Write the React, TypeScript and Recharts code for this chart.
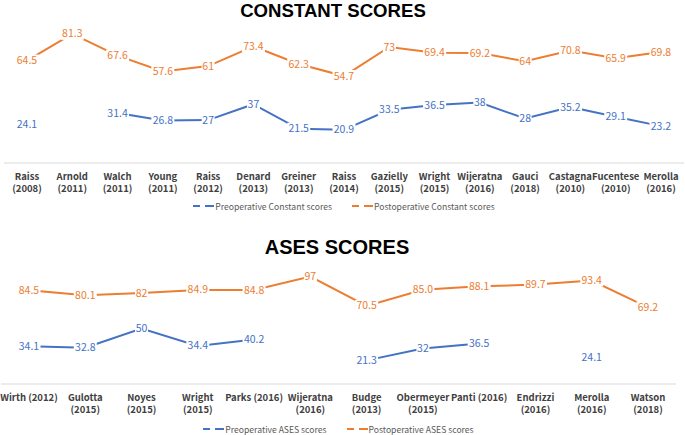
import { LineChart, Line, XAxis, YAxis, Legend, LabelList } from 'recharts'

const BLUE = '#4472C4'
const ORANGE = '#ED7D31'
const FONT = "'Noto Sans CJK KR', 'Noto Sans', sans-serif"
const TITLE_FONT = "'Liberation Sans', Arial, sans-serif"

// Constant scores
const constantStudies = [
  'Raiss\n(2008)', 'Arnold\n(2011)', 'Walch\n(2011)', 'Young\n(2011)', 'Raiss\n(2012)',
  'Denard\n(2013)', 'Greiner\n(2013)', 'Raiss\n(2014)', 'Gazielly\n(2015)', 'Wright\n(2015)',
  'Wijeratna\n(2016)', 'Gauci\n(2018)', 'Castagna\n(2010)', 'Fucentese\n(2010)', 'Merolla\n(2016)',
]
const constantPre = [24.1, null, 31.4, 26.8, 27, 37, 21.5, 20.9, 33.5, 36.5, 38, 28, 35.2, 29.1, 23.2]
const constantPost = [64.5, 81.3, 67.6, 57.6, 61, 73.4, 62.3, 54.7, 73, 69.4, 69.2, 64, 70.8, 65.9, 69.8]

// ASES scores
const asesStudies = [
  'Wirth (2012)', 'Gulotta\n(2015)', 'Noyes\n(2015)', 'Wright\n(2015)', 'Parks (2016)',
  'Wijeratna\n(2016)', 'Budge\n(2013)', 'Obermeyer\n(2015)', 'Panti (2016)', 'Endrizzi\n(2016)',
  'Merolla\n(2016)', 'Watson\n(2018)',
]
const asesPre = [34.1, 32.8, 50, 34.4, 40.2, null, 21.3, 32, 36.5, null, 24.1, null]
const asesPost = [84.5, 80.1, 82, 84.9, 84.8, 97, 70.5, 85.0, 88.1, 89.7, 93.4, 69.2]
const asesPostText = ['84.5', '80.1', '82', '84.9', '84.8', '97', '70.5', '85.0', '88.1', '89.7', '93.4', '69.2']

const constantData = constantStudies.map((study, i) => ({ study, pre: constantPre[i], post: constantPost[i] }))
const asesData = asesStudies.map((study, i) => ({ study, pre: asesPre[i], post: asesPost[i] }))

function StudyTick({ x, y, payload }: any) {
  const lines = String(payload.value).split('\n')
  return (
    <g>
      {lines.map((l, i) => (
        <text key={i} x={x} y={y + 16.5 + i * 12.5} textAnchor="middle" fill="#404040"
          fontSize={9.5} fontWeight={700} fontFamily={FONT}>{l}</text>
      ))}
    </g>
  )
}

const makeLabel = (color: string, texts?: string[]) => (props: any) => {
  const { x, y, value, index } = props
  if (value == null || x == null || y == null) return null
  const t = texts ? texts[index] : String(value)
  const w = t.length * 5 + 3
  return (
    <g>
      <rect x={x - w / 2} y={y - 6} width={w} height={12} fill="#fff" />
      <text x={x} y={y} dy={3.5} textAnchor="middle" fill={color} fontSize={10.5} fontFamily={FONT}>{t}</text>
    </g>
  )
}

const DashLegend = (h: number) => ({ payload }: any) => {
  const items = [...(payload || [])].sort((a: any, b: any) =>
    (a.value.startsWith('Pre') ? 0 : 1) - (b.value.startsWith('Pre') ? 0 : 1))
  return (
    <div style={{ display: 'flex', justifyContent: 'center', gap: 20, fontFamily: FONT, fontSize: 8.6, color: '#595959', lineHeight: `${h}px`, height: h }}>
      {items.map((p: any) => (
        <div key={p.value} style={{ display: 'flex', alignItems: 'center' }}>
          <svg width={22} height={10}>
            <line x1={0} x2={7} y1={5} y2={5} stroke={p.color} strokeWidth={2} />
            <line x1={12} x2={21} y1={5} y2={5} stroke={p.color} strokeWidth={2} />
          </svg>
          <span>{p.value}</span>
        </div>
      ))}
    </div>
  )
}

export default function App() {
  return (
    <div style={{ position: 'absolute', left: 0, top: 0, width: 685, height: 435, background: '#fff' }}>
      <div style={{ position: 'absolute', left: 0, top: 0 }}>
        <LineChart width={685} height={220} data={constantData} margin={{ top: 20, right: 1, left: 4, bottom: 6 }}>
          <XAxis dataKey="study" scale="point" padding={{ left: 23, right: 23 }} height={35}
            axisLine={{ stroke: '#D9D9D9' }} tickLine={false} tickSize={0} tickMargin={0}
            interval={0} tick={<StudyTick />} />
          <YAxis hide domain={[0, 90]} />
          <Legend verticalAlign="bottom" height={16} content={DashLegend(16)} />
          <Line name="Preoperative Constant scores" dataKey="pre" stroke={BLUE} strokeWidth={2} dot={false} isAnimationActive={false}>
            <LabelList dataKey="pre" content={makeLabel(BLUE)} />
          </Line>
          <Line name="Postoperative Constant scores" dataKey="post" stroke={ORANGE} strokeWidth={2} dot={false} isAnimationActive={false}>
            <LabelList dataKey="post" content={makeLabel(ORANGE)} />
          </Line>
        </LineChart>
      </div>
      <div style={{
        position: 'absolute', left: 133, top: 0, width: 400, textAlign: 'center',
        fontFamily: TITLE_FONT, fontWeight: 700, fontSize: 18.6, lineHeight: '21px', color: '#000',
      }}>CONSTANT SCORES</div>

      <div style={{ position: 'absolute', left: 0, top: 220 }}>
        <LineChart width={685} height={215} data={asesData} margin={{ top: 31, right: 9, left: 1, bottom: 0 }}>
          <XAxis dataKey="study" scale="point" padding={{ left: 28, right: 28 }} height={39}
            axisLine={{ stroke: '#D9D9D9' }} tickLine={false} tickSize={0} tickMargin={0}
            interval={0} tick={<StudyTick />} />
          <YAxis hide domain={[0, 120]} />
          <Legend verticalAlign="bottom" height={12} content={DashLegend(12)} />
          <Line name="Preoperative ASES scores" dataKey="pre" stroke={BLUE} strokeWidth={2} dot={false} isAnimationActive={false}>
            <LabelList dataKey="pre" content={makeLabel(BLUE)} />
          </Line>
          <Line name="Postoperative ASES scores" dataKey="post" stroke={ORANGE} strokeWidth={2} dot={false} isAnimationActive={false}>
            <LabelList dataKey="post" content={makeLabel(ORANGE, asesPostText)} />
          </Line>
        </LineChart>
      </div>
      <div style={{
        position: 'absolute', left: 137, top: 237, width: 400, textAlign: 'center',
        fontFamily: TITLE_FONT, fontWeight: 700, fontSize: 20, lineHeight: '20px', color: '#000',
      }}>ASES SCORES</div>
    </div>
  )
}
